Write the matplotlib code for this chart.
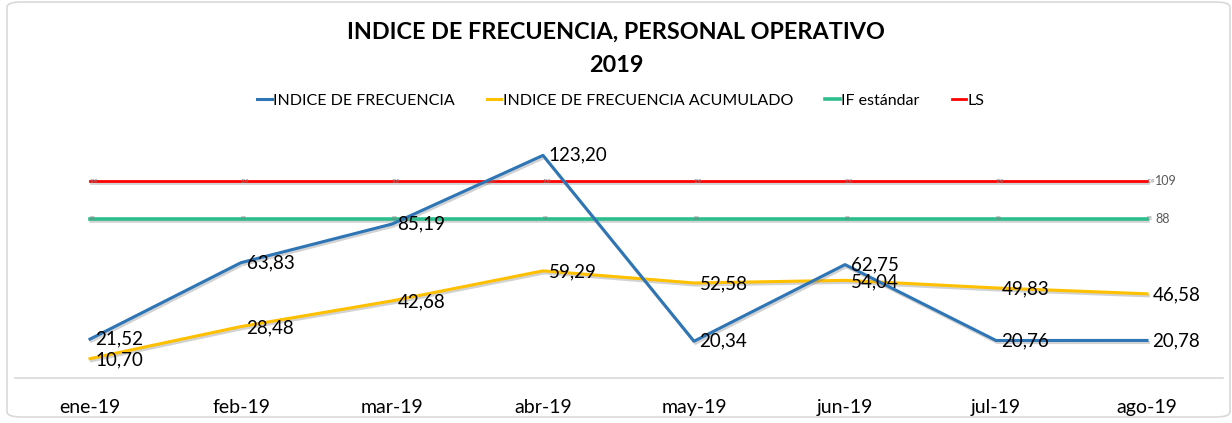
import matplotlib
matplotlib.use("Agg")
import matplotlib.pyplot as plt
import matplotlib.patheffects as pe
from matplotlib.patches import FancyBboxPatch

months = ["ene-19", "feb-19", "mar-19", "abr-19", "may-19", "jun-19", "jul-19", "ago-19"]
indice = [21.52, 63.83, 85.19, 123.20, 20.34, 62.75, 20.76, 20.78]
acumulado = [10.70, 28.48, 42.68, 59.29, 52.58, 54.04, 49.83, 46.58]
if_estandar = [88] * 8
ls = [109] * 8

plt.rcParams['font.family'] = ['Lato', 'DejaVu Sans']

W, H = 1232, 423
fig = plt.figure(figsize=(W / 100, H / 100), dpi=100)

# outer frame
frame = FancyBboxPatch((7 / W, 6 / H), (1223 / W), (415 / H),
                       boxstyle="round,pad=0,rounding_size=0.012",
                       transform=fig.transFigure, facecolor="white",
                       edgecolor="#d9d9d9", linewidth=1.2, zorder=-5)
fig.patches.append(frame)

ax = fig.add_axes([14.5 / W, (H - 378) / H, 1208 / W, (378 - 125) / H])
ax.set_zorder(2)
ax.set_facecolor("none")
x = list(range(len(months)))

shadow = [pe.SimpleLineShadow(offset=(1, -1.5), shadow_color="gray", alpha=0.35), pe.Normal()]

c_blue = "#2E75B6"
c_yel = "#FFC000"
c_grn = "#2DBE8E"
c_red = "#FF0000"

ax.plot(x, ls, color=c_red, lw=2.0, path_effects=shadow, label="LS", zorder=2)
ax.plot(x, if_estandar, color=c_grn, lw=2.6, path_effects=shadow, label="IF estándar", zorder=2)
ax.plot(x, acumulado, color=c_yel, lw=2.2, path_effects=shadow, label="INDICE DE FRECUENCIA ACUMULADO", zorder=3)
ax.plot(x, indice, color=c_blue, lw=2.2, path_effects=shadow, label="INDICE DE FRECUENCIA", zorder=4)

def fmt(v):
    return f"{v:.2f}".replace(".", ",")

for xi, v in zip(x, indice):
    ax.annotate(fmt(v), (xi, v), xytext=(4, 0), textcoords="offset points",
                ha="left", va="center", fontsize=13.5, color="black", zorder=6)
for xi, v in zip(x, acumulado):
    ax.annotate(fmt(v), (xi, v), xytext=(4, -1), textcoords="offset points",
                ha="left", va="center", fontsize=13.5, color="black", zorder=6)

# tiny labels on the constant lines
for xi, v in zip(x, ls):
    ax.annotate(f"{v}", (xi, v), xytext=(0, 0), textcoords="offset points",
                ha="left", va="center", fontsize=3.5, color="#808080", zorder=5)
for xi, v in zip(x, if_estandar):
    ax.annotate(f"{v}", (xi, v), xytext=(0, 0), textcoords="offset points",
                ha="left", va="center", fontsize=3.5, color="#808080", zorder=5)

ax.annotate(f"{ls[-1]}", (x[-1], ls[-1]), xytext=(6, 0), textcoords="offset points",
            ha="left", va="center", fontsize=9, color="#595959")
ax.annotate(f"{if_estandar[-1]}", (x[-1], if_estandar[-1]), xytext=(6, 0), textcoords="offset points",
            ha="left", va="center", fontsize=9, color="#595959")

ax.set_xlim(-0.5, len(months) - 0.5)
ax.set_ylim(0, 140)
ax.set_xticks(x)
ax.set_xticklabels(months, fontsize=14, color="black")
ax.tick_params(axis="x", length=0, pad=15)
ax.set_yticks([])
for s in ["top", "left", "right"]:
    ax.spines[s].set_visible(False)
ax.spines["bottom"].set_color("#d9d9d9")
ax.spines["bottom"].set_linewidth(1.2)

fig.text(0.5, (H - 32) / H, "INDICE DE FRECUENCIA, PERSONAL OPERATIVO", ha="center", va="center",
         fontsize=16.8, fontweight="bold", color="black")
fig.text(0.5, (H - 66) / H, "2019", ha="center", va="center",
         fontsize=16.8, fontweight="bold", color="black")

handles, labels = ax.get_legend_handles_labels()
order = [3, 2, 1, 0]
leg = fig.legend([handles[i] for i in order], [labels[i] for i in order],
                 loc="center", bbox_to_anchor=(621 / W, (H - 101) / H), ncol=4,
                 frameon=False, fontsize=11.5, handlelength=0.9, handletextpad=0.1,
                 columnspacing=2.0)
for lh in leg.get_lines():
    lh.set_path_effects([])

fig.savefig("out.png", dpi=100)
